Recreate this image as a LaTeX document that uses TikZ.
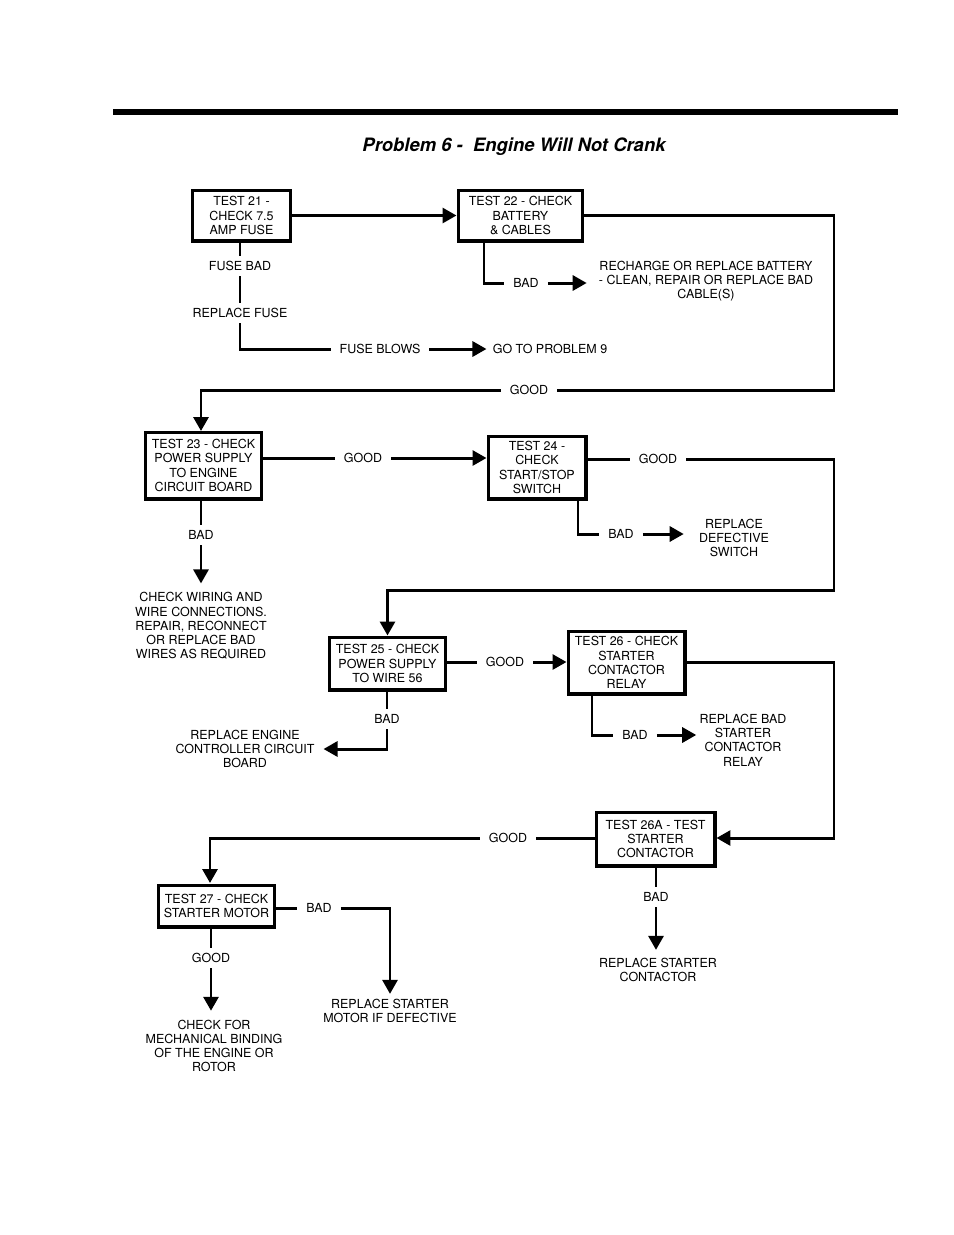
\documentclass[tikz,border=0pt]{standalone}
\usepackage{fontspec}
\setmainfont{TeX Gyre Heros}
\usetikzlibrary{arrows.meta}

\begin{document}
\begin{tikzpicture}[x=0.02cm,y=-0.02cm,
    every node/.style={font=\fontsize{7.1}{8.1}\selectfont, align=center},
    testbox/.style={draw, line width=2pt, inner sep=2pt},
    lbl/.style={inner xsep=5pt, inner ysep=3pt},
    conn/.style={line width=1.7pt},
    arr/.style={line width=1.7pt, -{Triangle[length=0.28cm,width=0.3cm]}}]
    \useasboundingbox (0,0) rectangle (954,1235);
    \fill (113,109) rectangle (898,115);
    \node[font=\fontsize{10.5}{12}\selectfont\bfseries\itshape] (title) at (514,147) {Problem 6 -\ \ Engine Will Not Crank};

    % tests 21 and 22
    \node[testbox, minimum width=1.97cm, minimum height=1.01cm] (t21) at (241.5,215.5) {TEST 21 -\\CHECK 7.5\\AMP FUSE};
    \node[testbox, minimum width=2.49cm, minimum height=1.01cm] (t22) at (520.5,215.5) {TEST 22 - CHECK\\BATTERY\\\& CABLES};
    \draw[arr] (t21) -- (t22);
    \node[lbl] (fusebad) at (240,266) {FUSE BAD};
    \node[lbl] (repfuse) at (240,313) {REPLACE FUSE};
    \node[lbl] (fuseblows) at (380,349) {FUSE BLOWS};
    \node[inner xsep=3.4pt] (prob9) at (550,349) {GO TO PROBLEM 9};
    \draw[conn] (t21.south -| fusebad) -- (fusebad);
    \draw[conn] (fusebad) -- (repfuse);
    \draw[conn] (repfuse) |- (fuseblows);
    \draw[arr] (fuseblows) -- (prob9);
    \coordinate (s22) at (484,241);
    \node[lbl] (bad22) at (526,283) {BAD};
    \node[inner xsep=6.8pt] (recharge) at (706,281) {RECHARGE OR REPLACE BATTERY\\- CLEAN, REPAIR OR REPLACE BAD\\CABLE(S)};
    \draw[conn] (s22) |- (bad22);
    \draw[arr] (bad22) -- (bad22 -| recharge.west);
    \coordinate (r1) at (834,390);
    \node[lbl] (good1) at (529,390) {GOOD};
    \draw[conn] (t22.east) -| (r1) -- (good1);

    % tests 23 and 24
    \node[testbox, minimum width=2.33cm, minimum height=1.33cm] (t23) at (203.5,465.5) {TEST 23 - CHECK\\POWER SUPPLY\\TO ENGINE\\CIRCUIT BOARD};
    \coordinate (n23) at (201,431);
    \draw[arr] (good1) -| (n23);
    \node[testbox, minimum width=1.95cm, minimum height=1.25cm] (t24) at (537,467.5) {TEST 24 -\\CHECK\\START/STOP\\SWITCH};
    \node[lbl] (good2) at (363,458) {GOOD};
    \draw[conn] (t23.east |- good2) -- (good2);
    \draw[arr] (good2) -- (good2 -| t24.west);
    \node[lbl] (bad23) at (201,535) {BAD};
    \node[inner ysep=5pt] (checkwire) at (201,626) {CHECK WIRING AND\\WIRE CONNECTIONS.\\REPAIR, RECONNECT\\OR REPLACE BAD\\WIRES AS REQUIRED};
    \draw[conn] (t23.south -| bad23) -- (bad23);
    \draw[arr] (bad23) -- (checkwire);
    \coordinate (s24) at (578,499);
    \node[lbl] (bad24) at (621,534) {BAD};
    \node[inner xsep=8.5pt] (repsw) at (734,538) {REPLACE\\DEFECTIVE\\SWITCH};
    \draw[conn] (s24) |- (bad24);
    \draw[arr] (bad24) -- (bad24 -| repsw.west);
    \node[lbl] (good3) at (658,459) {GOOD};
    \coordinate (r3) at (834,590);
    \draw[conn] (t24.east |- good3) -- (good3);

    % tests 25 and 26
    \node[testbox, minimum width=2.33cm, minimum height=1.05cm] (t25) at (387.5,663.5) {TEST 25 - CHECK\\POWER SUPPLY\\TO WIRE 56};
    \draw[arr] (good3) -| (r3) -| (t25);
    \node[testbox, minimum width=2.33cm, minimum height=1.25cm] (t26) at (626.5,662.5) {TEST 26 - CHECK\\STARTER\\CONTACTOR\\RELAY};
    \node[lbl] (good4) at (505,662) {GOOD};
    \draw[conn] (t25.east |- good4) -- (good4);
    \draw[arr] (good4) -- (good4 -| t26.west);
    \node[lbl] (bad25) at (387,719) {BAD};
    \node[inner xsep=5pt] (repeng) at (245,749) {REPLACE ENGINE\\CONTROLLER CIRCUIT\\BOARD};
    \draw[conn] (t25.south -| bad25) -- (bad25);
    \draw[arr] (bad25) |- (repeng);
    \coordinate (s26) at (592,694);
    \node[lbl] (bad26) at (635,735) {BAD};
    \node[inner xsep=1.7pt] (relay) at (743,740) {REPLACE BAD\\STARTER\\CONTACTOR\\RELAY};
    \draw[conn] (s26) |- (bad26);
    \draw[arr] (bad26) -- (bad26 -| relay.west);

    % tests 26A and 27
    \node[testbox, minimum width=2.37cm, minimum height=1.07cm] (t26a) at (655.5,839) {TEST 26A - TEST\\STARTER\\CONTACTOR};
    \coordinate (r4) at (834,838);
    \draw[arr] (t26.east) -| (r4) -- (r4 -| t26a.east);
    \node[testbox, minimum width=2.33cm, minimum height=0.83cm] (t27) at (216.5,906) {TEST 27 - CHECK\\STARTER MOTOR};
    \node[lbl] (good5) at (508,838) {GOOD};
    \coordinate (n27) at (210,883);
    \draw[conn] (t26a.west |- good5) -- (good5);
    \draw[arr] (good5) -| (n27);
    \node[lbl] (bad26a) at (656,897) {BAD};
    \node[inner ysep=4.5pt] (repcont) at (658,970) {REPLACE STARTER\\CONTACTOR};
    \draw[conn] (t26a.south -| bad26a) -- (bad26a);
    \draw[arr] (bad26a) -- (bad26a |- repcont.north);
    \node[lbl] (bad27) at (319,908) {BAD};
    \node[inner ysep=2.8pt] (repmot) at (390,1011) {REPLACE STARTER\\MOTOR IF DEFECTIVE};
    \draw[conn] (t27.east |- bad27) -- (bad27);
    \draw[arr] (bad27) -| (repmot);
    \node[lbl] (good6) at (211,958) {GOOD};
    \node[inner ysep=5pt] (mech) at (214,1046) {CHECK FOR\\MECHANICAL BINDING\\OF THE ENGINE OR\\ROTOR};
    \draw[conn] (t27.south -| good6) -- (good6);
    \draw[arr] (good6) -- (good6 |- mech.north);
\end{tikzpicture}
\end{document}
